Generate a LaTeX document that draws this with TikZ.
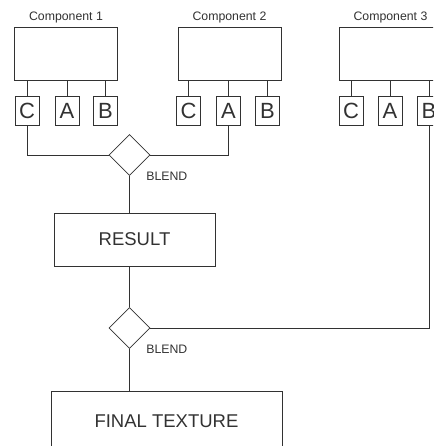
\documentclass[tikz,border=0pt]{standalone}
\usepackage{fontspec}
\setmainfont{Liberation Sans}
\usetikzlibrary{shapes.geometric,calc}
\definecolor{inkgray}{RGB}{50,50,50}

\begin{document}
\begin{tikzpicture}[x=1pt, y=-1pt,
  line width=0.8pt, color=inkgray,
  comp/.style={draw, minimum width=103pt, minimum height=53pt, inner sep=0pt},
  chan/.style={draw, minimum width=24pt, minimum height=29pt, inner sep=0pt, font=\fontsize{22}{24}\selectfont},
  blend/.style={draw, diamond, minimum width=41pt, minimum height=41pt, inner sep=0pt},
  big/.style={draw, inner sep=0pt, font=\fontsize{18.5}{21}\selectfont},
  lbl/.style={font=\fontsize{12.3}{14}\selectfont}]
  \useasboundingbox (0,0) rectangle (433,446);
  \clip (0,0) rectangle (433,446);
  % components
  \node[comp, label={[lbl, label distance=0pt]above:Component 1}] (comp1) at (66,53.5) {};
  \node[comp, label={[lbl, label distance=0pt]above:Component 2}] (comp2) at (229.5,53.5) {};
  \node[comp, label={[lbl, label distance=0pt]above:Component 3}] (comp3) at (390.5,53.5) {};
  % channels
  \node[chan] (c1) at (27,110.5) {C};
  \node[chan] (a1) at (67,110.5) {A};
  \node[chan] (b1) at (105.5,110.5) {B};
  \node[chan] (c2) at (188.5,110.5) {C};
  \node[chan] (a2) at (228.5,110.5) {A};
  \node[chan] (b2) at (267.5,110.5) {B};
  \node[chan] (c3) at (351,110.5) {C};
  \node[chan] (a3) at (390,110.5) {A};
  \node[chan] (b3) at (429,110.5) {B};
  \foreach \ch/\cp in {c1/comp1,a1/comp1,b1/comp1,c2/comp2,a2/comp2,b2/comp2,c3/comp3,a3/comp3,b3/comp3}
    \draw (\ch.north) -- (\ch.north |- \cp.south);
  % blending
  \node[blend, label={[lbl, anchor=north west, inner sep=1pt, label distance=7pt]south east:BLEND}] (blend1) at (129.5,155) {};
  \node[big, minimum width=161pt, minimum height=53pt] (result) at (134.5,239.5) {RESULT};
  \node[blend, label={[lbl, anchor=north west, inner sep=1pt, label distance=7pt]south east:BLEND}] (blend2) at (129.5,328) {};
  \node[big, minimum width=231pt, minimum height=60pt] (final) at (166.5,421) {FINAL TEXTURE};
  \draw (c1.south) |- (blend1.west);
  \draw (a2.south) |- (blend1.east);
  \draw (blend1.south) -- (blend1.south |- result.north);
  \draw (blend2.north |- result.south) -- (blend2.north);
  \draw (b3.south) |- (blend2.east);
  \draw (blend2.south) -- (blend2.south |- final.north);
\end{tikzpicture}
\end{document}
